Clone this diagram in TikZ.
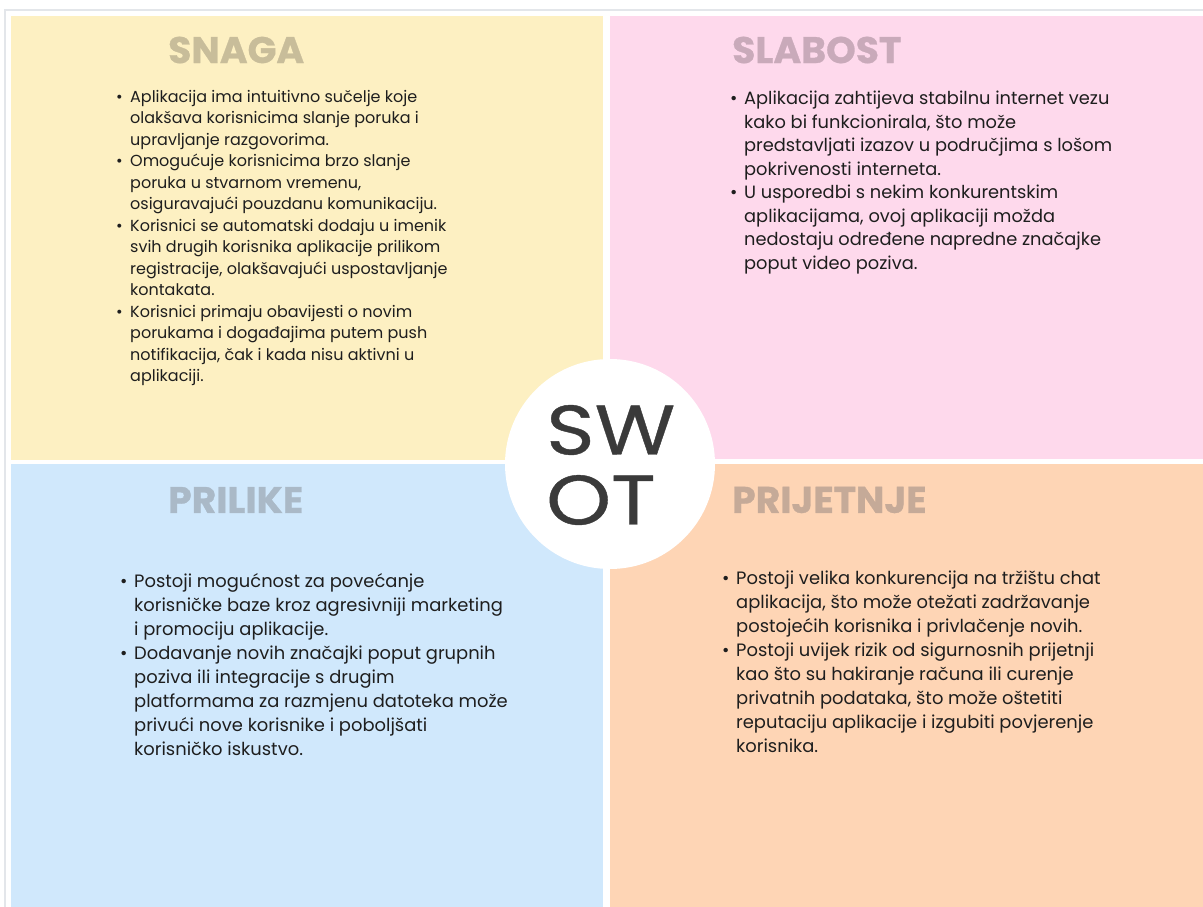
\documentclass[tikz,border=0pt]{standalone}
\usepackage{fontspec}
\setmainfont{Poppins}
\newfontfamily\swotfont[FakeStretch=1.18,FakeBold=0.6]{Poppins}
\newfontfamily\ttlfont[FakeStretch=1.02,FakeBold=0.8]{Poppins}
\definecolor{yel}{HTML}{FDF0C2}
\definecolor{pnk}{HTML}{FED9EC}
\definecolor{blu}{HTML}{D0E8FC}
\definecolor{org}{HTML}{FED5B5}
\definecolor{tyel}{HTML}{C8BD9A}
\definecolor{tpnk}{HTML}{C9AABA}
\definecolor{tblu}{HTML}{AAB9C7}
\definecolor{torg}{HTML}{C5AA98}
\definecolor{frame}{HTML}{E3E6EA}
\definecolor{swot}{HTML}{3A3A3A}
\definecolor{body}{HTML}{1E1E1E}
\newlength{\bw}
\setlength{\bw}{13pt}
\newcommand{\bl}[1]{\makebox[\bw][l]{\hspace*{-1pt}•}#1}
\newcommand{\cl}[1]{\hspace*{\bw}#1}
\tikzset{
  ttl/.style={anchor=west, inner sep=0pt, font=\fontsize{37}{37}\ttlfont\bfseries},
  txt/.style={anchor=north west, inner sep=0pt, align=left, text=body},
}
\begin{document}
\begin{tikzpicture}[x=1pt,y=-1pt]
\useasboundingbox (0,0) rectangle (1203,907);
\fill[white] (0,0) rectangle (1203,907);
\draw[frame, line width=1.2pt] (5,930) -- (5,10) -- (1230,10);
\fill[yel] (11,16) rectangle (603,460);
\fill[pnk] (610,16) rectangle (1210,459);
\fill[blu] (11,464) rectangle (603,920);
\fill[org] (610,464) rectangle (1210,920);
\fill[white] (610,464) circle (105);
\node[anchor=west, align=left, inner sep=0pt, text=swot, font=\fontsize{70}{70}\swotfont] (swot) at (546,465) {SW\\OT};

\node[ttl, text=tyel] (tS) at (168,50) {SNAGA};
\node[ttl, text=tpnk] (tW) at (732,50) {SLABOST};
\node[ttl, text=tblu] (tO) at (168,500) {PRILIKE};
\node[ttl, text=torg] (tT) at (732,500) {PRIJETNJE};

\node[txt, font=\fontsize{16}{21.5}\selectfont] (S) at (117,90) {%
\bl{Aplikacija ima intuitivno sučelje koje}\\
\cl{olakšava korisnicima slanje poruka i}\\
\cl{upravljanje razgovorima.}\\
\bl{Omogućuje korisnicima brzo slanje}\\
\cl{poruka u stvarnom vremenu,}\\
\cl{osiguravajući pouzdanu komunikaciju.}\\
\bl{Korisnici se automatski dodaju u imenik}\\
\cl{svih drugih korisnika aplikacije prilikom}\\
\cl{registracije, olakšavajući uspostavljanje}\\
\cl{kontakata.}\\
\bl{Korisnici primaju obavijesti o novim}\\
\cl{porukama i događajima putem push}\\
\cl{notifikacija, čak i kada nisu aktivni u}\\
\cl{aplikaciji.}};

\node[txt, font=\fontsize{17.8}{23.5}\selectfont] (W) at (731,91) {%
\bl{Aplikacija zahtijeva stabilnu internet vezu}\\
\cl{kako bi funkcionirala, što može}\\
\cl{predstavljati izazov u područjima s lošom}\\
\cl{pokrivenosti interneta.}\\
\bl{U usporedbi s nekim konkurentskim}\\
\cl{aplikacijama, ovoj aplikaciji možda}\\
\cl{nedostaju određene napredne značajke}\\
\cl{poput video poziva.}};

\node[txt, font=\fontsize{17.9}{24}\selectfont] (O) at (121,573) {%
\bl{Postoji mogućnost za povećanje}\\
\cl{korisničke baze kroz agresivniji marketing}\\
\cl{i promociju aplikacije.}\\
\bl{Dodavanje novih značajki poput grupnih}\\
\cl{poziva ili integracije s drugim}\\
\cl{platformama za razmjenu datoteka može}\\
\cl{privući nove korisnike i poboljšati}\\
\cl{korisničko iskustvo.}};

\node[txt, font=\fontsize{17.9}{24}\selectfont] (T) at (723,571) {%
\bl{Postoji velika konkurencija na tržištu chat}\\
\cl{aplikacija, što može otežati zadržavanje}\\
\cl{postojećih korisnika i privlačenje novih.}\\
\bl{Postoji uvijek rizik od sigurnosnih prijetnji}\\
\cl{kao što su hakiranje računa ili curenje}\\
\cl{privatnih podataka, što može oštetiti}\\
\cl{reputaciju aplikacije i izgubiti povjerenje}\\
\cl{korisnika.}};
\end{tikzpicture}
\end{document}
